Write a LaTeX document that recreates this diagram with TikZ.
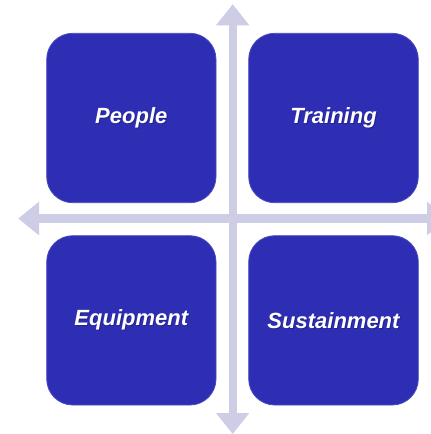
\documentclass[tikz,border=0pt]{standalone}
\usepackage{fontspec}
\setmainfont{Liberation Sans}
\definecolor{boxblue}{HTML}{2E2EB4}
\definecolor{boxedge}{HTML}{4A4AC0}
\definecolor{axis}{HTML}{CDCDE6}
\definecolor{shade}{HTML}{1A1A70}
\begin{document}
\begin{tikzpicture}[x=1pt,y=-1pt,
  quad/.style={rounded corners=26pt, fill=boxblue, draw=boxedge, line width=0.8pt},
  lbl/.style={text=white, font=\fontsize{22}{26}\selectfont\bfseries\itshape, inner sep=0pt},
  lblshadow/.style={text=shade, font=\fontsize{22}{26}\selectfont\bfseries\itshape, inner sep=0pt, opacity=0.6}]
\useasboundingbox (0,0) rectangle (431,434);
\clip (0,0) rectangle (431,434);
% axes
\fill[axis] (228.7,24) rectangle (236.7,414);
\fill[axis] (216,25.3) -- (232.7,4.3) -- (249.3,25.3) -- cycle;
\fill[axis] (216,413) -- (232.7,434) -- (249.3,413) -- cycle;
\fill[axis] (38,214.3) rectangle (428,222.7);
\fill[axis] (39,201.7) -- (18.3,218.5) -- (39,235.3) -- cycle;
\fill[axis] (427,201.7) -- (448,218.5) -- (427,235.3) -- cycle;
% boxes
\path[quad] (46.7,33.3) rectangle (216,202.7);
\path[quad] (248.7,33.3) rectangle (418.3,202.7);
\path[quad] (46.7,235.7) rectangle (216,405);
\path[quad] (248.7,235.7) rectangle (418.3,405);
\coordinate (cp) at (131.3,118);
\coordinate (ct) at (333.5,118);
\coordinate (ce) at (131.3,320.3);
\coordinate (cs) at (333.5,320.3);
\node[lblshadow] at ([shift={(1,1)}]cp) {People};
\node[lblshadow] at ([shift={(1,1)}]ct) {Training};
\node[lblshadow] at ([shift={(1,1)}]ce) {Equipment};
\node[lblshadow] at ([shift={(1,1)}]cs) {Sustainment};
\node[lbl] (people) at (cp) {People};
\node[lbl] (training) at (ct) {Training};
\node[lbl] (equipment) at (ce) {Equipment};
\node[lbl] (sustainment) at (cs) {Sustainment};
\end{tikzpicture}
\end{document}
